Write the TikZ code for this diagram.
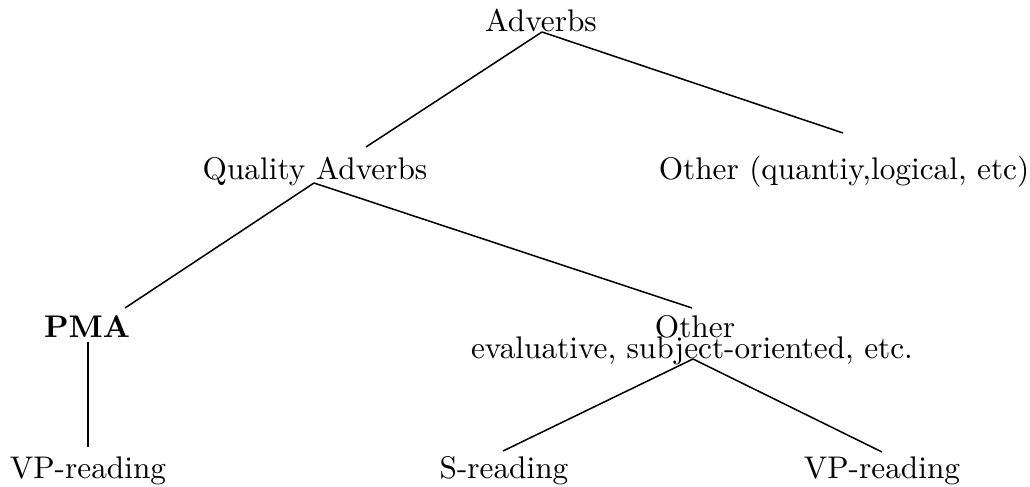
\documentclass[tikz,border=0pt]{standalone}
\usetikzlibrary{calc}
\begin{document}
\begin{tikzpicture}[x=0.3291pt,y=-0.3291pt,
  lbl/.style={inner sep=0pt,anchor=base,font=\fontsize{10.3}{12.4}\selectfont},
  edge/.style={draw=black,line width=0.5pt}]
\useasboundingbox (0,0) rectangle (1030,487);
% nodes
\node[lbl] (adv) at (541,32) {Adverbs};
\node[lbl] (qa) at (315,180) {Quality Adverbs};
\node[lbl] (oq) at (844,180) {Other (quantiy,logical, etc)};
\node[lbl] (pma) at (87,338) {\textbf{PMA}};
\node[lbl] (oth) at (695,338) {Other};
\node[lbl] (othb) at (692,359) {evaluative, subject-oriented, etc.};
\node[lbl] (vp1) at (88,479) {VP-reading};
\node[lbl] (sr) at (504,479) {S-reading};
\node[lbl] (vp2) at (882,479) {VP-reading};
% connector end points
\coordinate (advS) at (542,32);
\coordinate (qaN) at (366,147);
\coordinate (oqN) at (843,133);
\coordinate (qaS) at (314,183);
\coordinate (pmaN) at (125,308);
\coordinate (othN) at (692,308);
\coordinate (pmaS) at (88,342);
\coordinate (vp1N) at (88,447);
\coordinate (othS) at (693,359);
\coordinate (srN) at (503,451);
\coordinate (vp2N) at (882,452);
% connectors
\draw[edge] (advS) -- (qaN);
\draw[edge] (advS) -- (oqN);
\draw[edge] (qaS) -- (pmaN);
\draw[edge] (qaS) -- (othN);
\draw[edge] (pmaS) -- (vp1N);
\draw[edge] (othS) -- (srN);
\draw[edge] (othS) -- (vp2N);
\end{tikzpicture}
\end{document}
